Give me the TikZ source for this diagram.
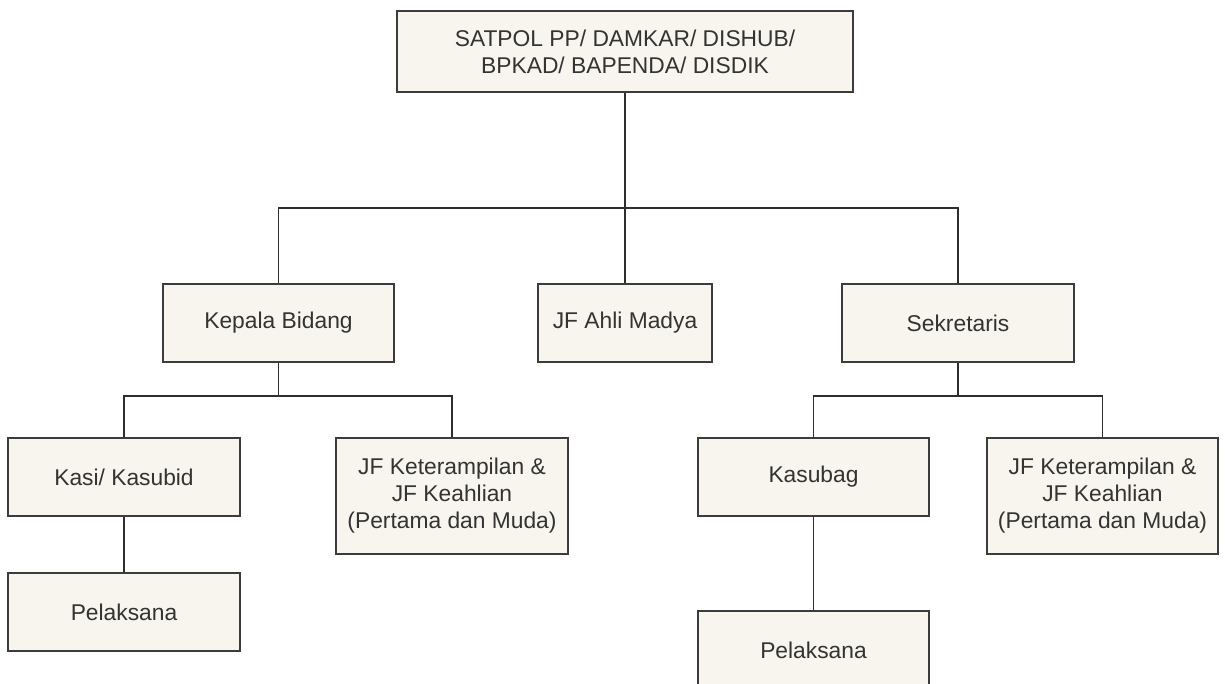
\documentclass[tikz,border=0pt]{standalone}
\usepackage{fontspec}
\setmainfont{Liberation Sans}
\definecolor{boxfill}{HTML}{F7F5EE}
\definecolor{boxline}{HTML}{3C3C3C}
\definecolor{txt}{HTML}{333333}
\definecolor{wire}{HTML}{2E2E2E}
\begin{document}
\begin{tikzpicture}[x=1pt,y=-1pt,
  orgbox/.style={draw=boxline, fill=boxfill, line width=1.3pt, inner sep=0pt,
    text=txt, align=center, font=\fontsize{22.8}{27}\selectfont,
    minimum height=78pt},
  wirestyle/.style={draw=wire, line width=1.4pt}]
\fill[white] (0,0) rectangle (1225,684);
\useasboundingbox (0,0) rectangle (1225,684);

\node[orgbox, minimum width=456pt, minimum height=81pt] (top) at (625,51.5) {SATPOL PP/ DAMKAR/ DISHUB/\\BPKAD/ BAPENDA/ DISDIK};
\node[orgbox, minimum width=231pt] (kep) at (278.5,323) {Kepala Bidang};
\node[orgbox, minimum width=174pt] (jfam) at (625,323) {JF Ahli Madya};
\node[orgbox, minimum width=232pt] (sek) at (958,323) {Sekretaris};

\node[orgbox, minimum width=232pt] (kasi) at (124,477) {Kasi/ Kasubid};
\node[orgbox, minimum width=232pt, minimum height=116pt] (jfa) at (452,496) {JF Keterampilan \&\\JF Keahlian\\(Pertama dan Muda)};
\node[orgbox, minimum width=232pt] (pela) at (124,612) {Pelaksana};

\node[orgbox, minimum width=231pt] (kasubag) at (813.5,477) {Kasubag};
\node[orgbox, minimum width=231pt, minimum height=116pt] (jfb) at (1102.5,496) {JF Keterampilan \&\\JF Keahlian\\(Pertama dan Muda)};
\node[orgbox, minimum width=231pt] (pelb) at (813.5,650) {Pelaksana};

\coordinate (busA) at (625,208);
\coordinate (busB) at (278.5,396);
\coordinate (busC) at (958,396);

\draw[wirestyle] (top.south) -- (jfam.north);
\draw[wirestyle] (busA) -| (kep.north);
\draw[wirestyle] (busA) -| (sek.north);

\draw[wirestyle] (kep.south) -- (busB);
\draw[wirestyle] (busB) -| (kasi.north);
\draw[wirestyle] (busB) -| (jfa.north);
\draw[wirestyle] (kasi.south) -- (pela.north);

\draw[wirestyle] (sek.south) -- (busC);
\draw[wirestyle] (busC) -| (kasubag.north);
\draw[wirestyle] (busC) -| (jfb.north);
\draw[wirestyle] (kasubag.south) -- (pelb.north);
\end{tikzpicture}
\end{document}
